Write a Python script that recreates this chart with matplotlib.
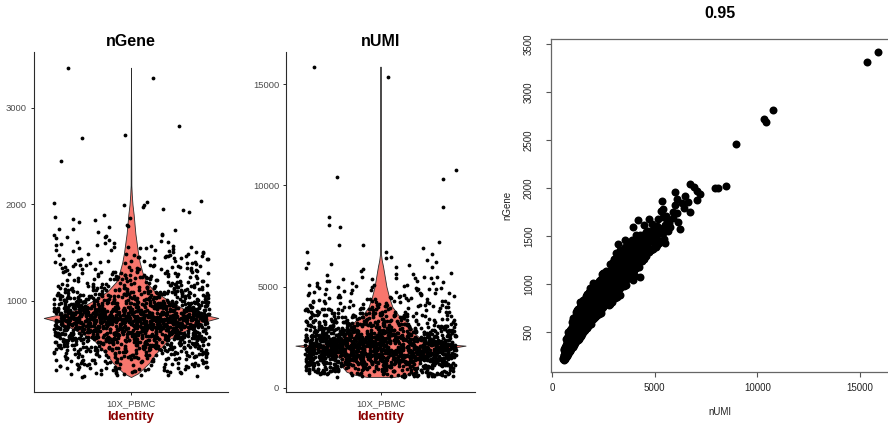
import numpy as np
import matplotlib
matplotlib.use("Agg")
from matplotlib import pyplot as plt

plt.rcParams['font.family'] = ['Liberation Sans', 'DejaVu Sans']

# cells, grouped by nGene band (same cells in all three panels)
gene_200 = [212, 228, 236, 244, 251, 258, 263, 269, 274, 279, 284, 288, 292, 296, 299]
umi_200 = [590, 612, 655, 580, 701, 634, 598, 742, 668, 611, 785, 702, 646, 820, 731]

gene_300 = [302, 305, 309, 313, 318, 321, 326, 331, 334, 338, 342, 345, 349, 353, 356, 360, 364, 367, 371, 374,
            378, 381, 385, 388, 391, 394, 397, 399]
umi_300 = [690, 812, 598, 745, 870, 655, 790, 934, 702, 846, 760, 611, 985, 820, 690, 895, 768, 1040, 842, 725,
           951, 880, 1102, 790, 936, 860, 1015, 748]

gene_400 = [401, 403, 406, 408, 411, 413, 416, 418, 421, 423, 426, 428, 431, 433, 436, 438, 441, 443, 446, 448,
            451, 453, 456, 458, 461, 463, 466, 468, 471, 473, 476, 478, 481, 483, 486, 488, 491, 493, 495, 497,
            498, 499, 500, 496]
umi_400 = [905, 1080, 842, 990, 1165, 930, 876, 1042, 1210, 968, 895, 1120, 1004, 720, 1076, 1255, 980, 921, 1140, 1033,
           1302, 958, 1088, 1190, 1010, 760, 1135, 1264, 1047, 990, 1178, 1352, 1102, 962, 1226, 1064, 1150, 1388, 1018, 1240,
           1110, 1286, 1174, 800]

gene_500 = [502, 503, 505, 506, 508, 509, 511, 512, 514, 515, 517, 518, 520, 521, 523, 524, 526, 527, 529, 530,
            532, 533, 535, 536, 538, 539, 541, 542, 544, 545, 547, 548, 550, 551, 553, 554, 556, 557, 559, 560,
            562, 563, 565, 566, 568, 569, 571, 572, 574, 575, 577, 578, 580, 581, 583, 584, 586, 587, 589, 590,
            592, 593, 595, 596, 597, 598, 599, 600]
umi_500 = [1120, 1310, 1045, 1230, 1402, 1168, 1090, 1275, 1350, 1186, 880, 1460, 1240, 1138, 1318, 1205, 1095, 1420, 1268, 1184,
           1352, 1506, 1230, 920, 1295, 1388, 1172, 1254, 1558, 1340, 1212, 960, 1302, 1428, 1260, 1610, 1186, 1344, 1278, 1470,
           1232, 1395, 1310, 1522, 1208, 1366, 1448, 1290, 1660, 1384, 1252, 1470, 1336, 1568, 1410, 1282, 1495, 1372, 1624, 1318,
           1452, 1540, 1390, 1710, 1060, 1506, 1436, 1362]

gene_600 = [601, 602, 603, 604, 605, 606, 607, 608, 609, 610, 611, 612, 613, 614, 615, 616, 617, 618, 619, 620,
            621, 622, 623, 624, 625, 626, 627, 628, 629, 630, 631, 632, 633, 634, 635, 636, 637, 638, 639, 640,
            641, 642, 643, 644, 645, 646, 647, 648, 649, 650, 651, 652, 653, 654, 655, 656, 657, 658, 659, 660,
            661, 662, 663, 664, 665, 666, 667, 668, 669, 670, 671, 672, 673, 674, 675, 676, 677, 678, 679, 680,
            682, 684, 686, 688, 690, 692, 694, 696, 698, 699, 687, 693]
umi_600 = [1410, 1528, 1352, 1466, 1620, 1398, 1296, 1540, 1462, 1705, 1380, 1498, 1572, 1324, 1446, 1688, 1512, 1402, 1590, 1268,
           1484, 1636, 1420, 1552, 1790, 1476, 1358, 1602, 1518, 1438, 1680, 1546, 1402, 1622, 1860, 1490, 1574, 1120, 1656, 1530,
           1702, 1468, 1590, 1812, 1542, 1420, 1664, 1596, 1488, 1738, 1612, 1100, 1690, 1566, 1904, 1624, 1498, 1752, 1640, 1532,
           1786, 1660, 1180, 1718, 1602, 1956, 1684, 1560, 1806, 1676, 1512, 1744, 1858, 1630, 1722, 1200, 1792, 1660, 2010, 1728,
           1590, 1836, 1702, 1930, 1664, 1802, 1542, 1888, 1746, 2064, 1818, 1622]

gene_700 = [700, 701, 702, 702, 703, 704, 705, 706, 706, 707, 708, 709, 710, 710, 711, 712, 713, 714, 714, 715,
            716, 717, 718, 718, 719, 720, 721, 722, 722, 723, 724, 725, 726, 726, 727, 728, 729, 730, 730, 731,
            732, 733, 734, 734, 735, 736, 737, 738, 738, 739, 740, 741, 742, 742, 743, 744, 745, 746, 746, 747,
            748, 749, 750, 750, 751, 752, 753, 754, 754, 755, 756, 757, 758, 758, 759, 760, 761, 762, 762, 763,
            764, 765, 766, 766, 767, 768, 769, 770, 770, 771, 772, 773, 774, 774, 775, 776, 777, 778, 778, 779,
            780, 781, 782, 782, 783, 784, 785, 786, 786, 787, 788, 789, 790, 790, 791, 792, 793, 794, 794, 795,
            796, 797, 798, 798, 799, 799]
umi_700 = [1690, 1812, 1624, 1930, 1758, 1580, 1866, 1702, 2044, 1790, 1648, 1902, 1776, 1300, 1984, 1724, 1850, 1668, 2106, 1812,
           1594, 1942, 1760, 1680, 1876, 2010, 1722, 1618, 1958, 1804, 1702, 2080, 1846, 1650, 1938, 1776, 2164, 1822, 1240, 1990,
           1748, 1880, 1690, 2052, 1834, 1964, 1726, 2220, 1812, 1320, 1906, 2034, 1786, 1874, 2120, 1714, 1962, 1838, 2262, 1752,
           1996, 1878, 1676, 2090, 1924, 1810, 2174, 1890, 1742, 2036, 1952, 1820, 2308, 1906, 1774, 2068, 1986, 1852, 2196, 1930,
           1380, 2110, 2006, 1868, 2354, 1944, 1800, 2142, 2030, 1906, 1760, 2226, 2060, 1938, 1842, 2400, 1986, 2100, 1878, 2252,
           1968, 1812, 2170, 2044, 1920, 2318, 2088, 1480, 2204, 1994, 2130, 1888, 2442, 2060, 1946, 2262, 2110, 1836, 2180, 2010,
           2336, 1924, 2098, 2214, 1970, 2480]

gene_800 = [800, 800, 801, 802, 802, 803, 804, 804, 805, 806, 806, 807, 808, 808, 809, 810, 810, 811, 812, 812,
            813, 814, 814, 815, 816, 816, 817, 818, 818, 819, 820, 820, 821, 822, 822, 823, 824, 824, 825, 826,
            826, 827, 828, 828, 829, 830, 830, 831, 832, 832, 833, 834, 834, 835, 836, 836, 837, 838, 838, 839,
            840, 840, 841, 842, 842, 843, 844, 844, 845, 846, 846, 847, 848, 848, 849, 850, 850, 851, 852, 852,
            853, 854, 854, 855, 856, 856, 857, 858, 858, 859, 860, 860, 861, 862, 862, 863, 864, 864, 865, 866,
            866, 867, 868, 868, 869, 870, 870, 871, 872, 872, 873, 874, 874, 875, 876, 876, 877, 878, 878, 879,
            880, 881, 882, 882, 883, 884, 885, 886, 886, 887, 888, 889, 890, 891, 892, 893, 894, 896, 897, 899]
umi_800 = [1984, 2160, 2072, 1500, 2290, 2018, 2146, 1930, 2380, 2090, 1962, 2218, 2044, 2402, 1890, 2170, 2088, 2296, 1972, 2134,
           2462, 2056, 1908, 2240, 2112, 2008, 2350, 2184, 1948, 2076, 2512, 2210, 2100, 1986, 2328, 2148, 2040, 2426, 2226, 1560,
           2168, 2294, 2070, 2540, 2196, 2012, 2372, 2118, 2250, 1520, 2446, 2164, 2062, 2320, 2206, 2598, 2090, 2268, 1998, 2404,
           2142, 2280, 2044, 2478, 2218, 2336, 2096, 2632, 2256, 2170, 1600, 2390, 2236, 2120, 2522, 2300, 2068, 2412, 2190, 2680,
           2262, 2136, 2354, 2460, 2084, 2298, 2578, 2214, 2390, 2148, 3150, 2310, 2236, 2442, 2098, 2366, 2560, 2192, 2290, 2484,
           2156, 2338, 2760, 2246, 2402, 1660, 2520, 2316, 2208, 2618, 2380, 2270, 2476, 2154, 2818, 2344, 2230, 2540, 2412, 2296,
           2660, 2188, 2470, 2362, 3300, 2254, 2428, 2580, 2316, 1700, 2506, 2392, 2712, 2268, 2452, 2920, 2340, 2560, 2414, 2636]

gene_900 = [900, 901, 902, 903, 904, 905, 906, 907, 908, 909, 910, 911, 912, 913, 914, 915, 916, 917, 918, 919,
            920, 921, 922, 923, 924, 925, 926, 927, 928, 929, 931, 932, 933, 935, 936, 937, 938, 940, 941, 942,
            944, 945, 946, 948, 949, 950, 952, 953, 954, 956, 957, 958, 960, 961, 962, 964, 965, 966, 968, 969,
            970, 972, 973, 974, 976, 977, 978, 980, 981, 982, 984, 985, 986, 988, 989, 990, 992, 993, 994, 996,
            997, 998, 999, 903, 917, 934, 951, 967, 983]
umi_900 = [2318, 2486, 2250, 2630, 2390, 2804, 2460, 1800, 2578, 2412, 2690, 2534, 2360, 1980, 2506, 2428, 2652, 2310, 2740, 2580,
           2456, 2020, 2620, 1860, 2708, 2548, 2816, 2470, 2662, 3010, 2594, 2446, 2760, 2682, 2912, 2100, 2380, 2848, 2640, 3082,
           2586, 2720, 1920, 2950, 2664, 2798, 3140, 2560, 2736, 2880, 2618, 2150, 2702, 2836, 1980, 3210, 2790, 2660, 2930, 2748,
           3066, 2612, 2862, 2720, 3290, 2800, 2954, 2680, 3118, 2842, 2740, 2988, 3360, 2808, 2690, 3054, 2910, 3200, 2772, 2986,
           3424, 2860, 3090, 2540, 2592, 2530, 2610, 3020, 2604]

gene_1000 = [1001, 1003, 1004, 1006, 1008, 1009, 1011, 1013, 1014, 1016, 1018, 1019, 1021, 1023, 1024, 1026, 1028, 1029, 1031, 1033,
             1034, 1036, 1038, 1039, 1041, 1042, 1044, 1046, 1048, 1049, 1051, 1053, 1054, 1056, 1058, 1059, 1061, 1063, 1064, 1066,
             1068, 1069, 1071, 1073, 1074, 1076, 1078, 1077, 1081, 1083, 1084, 1086, 1088, 1089, 1091, 1093, 1094, 1096, 1098, 1099,
             1097]
umi_1000 = [2180, 2910, 2820, 3080, 2736, 2260, 3220, 2860, 3040, 2768, 3310, 2940, 2330, 2812, 3006, 3390, 2880, 3160, 2950, 3060,
            2420, 3470, 3002, 3214, 2900, 3958, 3550, 2970, 3276, 3080, 2860, 3190, 3620, 3030, 3340, 2930, 3150, 3420, 3040, 2880,
            3710, 3230, 3100, 3480, 2990, 3300, 3160, 4284, 3060, 3380, 3220, 2940, 3560, 3270, 3110, 3860, 3330, 3180, 3500, 3040,
            3650]

gene_1100 = [1102, 1105, 1108, 1110, 1113, 1116, 1118, 1121, 1124, 1126, 1129, 1132, 1134, 1137, 1140, 1142, 1145, 1148, 1150, 1153,
             1156, 1158, 1161, 1164, 1166, 1169, 1172, 1174, 1177, 1180, 1182, 1185, 1188, 1190, 1193, 1196, 1198]
umi_1100 = [2420, 3260, 3540, 3150, 3390, 2500, 3720, 3310, 3180, 3480, 3880, 3260, 3600, 3380, 2620, 3760, 3460, 3980, 3320, 3640,
            3500, 3250, 3820, 3560, 4100, 3420, 3700, 3350, 3900, 3580, 4220, 3480, 3760, 3620, 4020, 3540, 3860]

gene_1200 = [1203, 1207, 1211, 1215, 1219, 1223, 1227, 1231, 1235, 1239, 1243, 1247, 1251, 1255, 1259, 1263, 1267, 1271, 1275, 1279,
             1283, 1287, 1291, 1294, 1297, 1299]
umi_1200 = [2820, 3640, 3900, 3520, 4180, 3700, 2960, 3980, 3620, 4360, 3780, 3560, 4100, 3860, 3640, 4460, 3920, 3760, 4220, 3980,
            3700, 4600, 4040, 3860, 4300, 3740]

gene_1300 = [1304, 1309, 1314, 1319, 1324, 1329, 1334, 1339, 1344, 1349, 1354, 1359, 1364, 1369, 1374, 1379, 1384, 1389, 1395]
umi_1300 = [3720, 4060, 4420, 3900, 4200, 4700, 4040, 3880, 4380, 4820, 4160, 4520, 4000, 4940, 4300, 4620, 4140, 5050, 4400]

gene_1400 = [1403, 1410, 1414, 1421, 1425, 1433, 1439, 1445, 1451, 1462, 1463, 1469, 1475, 1483, 1492]
umi_1400 = [3940, 5090, 3230, 5000, 5500, 4720, 4100, 5240, 4580, 3560, 4880, 5460, 4520, 4960, 4680]

gene_1500 = [1506, 1514, 1522, 1531, 1539, 1547, 1556, 1564, 1570, 1581, 1589, 1597]
umi_1500 = [4420, 5100, 4700, 5420, 4860, 5200, 5640, 4960, 6232, 5020, 5760, 3958]

gene_1600 = [1605, 1614, 1623, 1649, 1667, 1662, 1674, 1685, 1696]
umi_1600 = [5100, 5480, 4880, 6150, 4200, 5620, 5180, 5900, 5420]

gene_high = [1747, 1747, 1778, 1712, 1735, 1762, 1790, 1840, 1865, 1875, 1820, 1852, 1890,
             1938, 1955, 1972, 1920, 1996, 1998, 2039, 2021, 2012,
             2455, 2691, 2716, 2813, 3312, 3417]
umi_high = [5875, 6720, 5420, 5560, 6080, 5300, 6440, 6312, 5370, 7075, 5980, 6600, 6100,
            7205, 5990, 7044, 6480, 7936, 8067, 6720, 8455, 6900,
            8958, 10400, 10330, 10775, 15336, 15872]

# more cells from the dense part of the clouds
gene_more_low = [218, 232, 247, 255, 266, 277, 289, 297,
                 304, 311, 316, 324, 329, 336, 340, 347, 351, 358, 362, 369, 376, 383, 392,
                 402, 407, 410, 415, 419, 424, 427, 432, 437, 440, 444, 447, 452, 455, 459, 462, 465, 470, 474, 479,
                 482, 487, 490, 494, 499]
umi_more_low = [640, 560, 720, 602, 760, 650, 700, 872,
                610, 880, 700, 930, 640, 780, 1010, 690, 905, 760, 1060, 700, 980, 820, 1120,
                760, 1010, 1190, 820, 1260, 700, 1090, 1300, 860, 1160, 780, 1380, 920, 1220, 1060, 1420, 830, 1300, 940, 1470,
                1150, 880, 1400, 1020, 1520]

gene_more_500 = [501, 504, 507, 510, 513, 516, 519, 522, 525, 528, 531, 534, 537, 540, 543, 546, 549, 552, 555, 558,
                 561, 564, 567, 570, 573, 576, 579, 582, 585, 588, 591, 594, 596, 598, 503, 519, 537, 555, 573, 591]
umi_more_500 = [960, 1380, 1180, 1560, 900, 1290, 1470, 1040, 1600, 1230, 980, 1420, 1310, 1690, 1100, 1480, 1020, 1640, 1350, 1150,
                1760, 1240, 1000, 1560, 1400, 1820, 1120, 1520, 1300, 1880, 1080, 1620, 1460, 1240, 1220, 1050, 1540, 1380, 1170, 1700]

gene_more_600 = [600, 602, 604, 606, 608, 610, 612, 614, 616, 618, 620, 622, 624, 626, 628, 630, 632, 634, 636, 638,
                 640, 642, 644, 646, 648, 650, 652, 654, 656, 658, 660, 662, 664, 666, 668, 670, 672, 674, 676, 678,
                 680, 682, 684, 686, 688, 690, 692, 694, 696, 698, 605, 625, 645, 665, 685]
umi_more_600 = [1200, 1640, 1350, 1780, 960, 1520, 1900, 1300, 1460, 1720, 1000, 1580, 1840, 1380, 1620, 1250, 1960, 1480, 1700, 1320,
                1560, 2000, 1040, 1660, 1420, 1860, 1540, 1280, 1760, 2080, 1450, 1620, 1900, 1240, 1700, 1520, 2120, 1380, 1820, 1600,
                1960, 1300, 1740, 2300, 1500, 1860, 1660, 1400, 2380, 1780, 1760, 1210, 2040, 1560, 1340]

gene_more_700 = [700, 701, 703, 704, 706, 707, 709, 710, 712, 713, 715, 716, 718, 719, 721, 722, 724, 725, 727, 728,
                 730, 731, 733, 734, 736, 737, 739, 740, 742, 743, 745, 746, 748, 749, 751, 752, 754, 755, 757, 758,
                 760, 761, 763, 764, 766, 767, 769, 770, 772, 773, 775, 776, 778, 779, 781, 782, 784, 785, 787, 788,
                 790, 791, 793, 794, 796, 797, 799, 712, 728, 744, 756, 768, 784, 792, 735]
umi_more_700 = [1420, 1880, 2100, 1560, 1740, 2260, 1180, 1980, 1640, 2180, 1480, 1840, 2320, 1600, 1940, 1220, 2060, 1720, 2400, 1540,
                1860, 2140, 1460, 1780, 2280, 1640, 1980, 1250, 2200, 1820, 1540, 2360, 1900, 1700, 2080, 1440, 2240, 1800, 1620, 2460,
                1960, 1520, 2160, 1760, 2320, 1600, 2040, 1460, 2500, 1880, 1680, 2200, 1540, 2380, 1800, 1980, 1420, 2760, 2120, 1720,
                1900, 2300, 1580, 2040, 2700, 1760, 2180, 1580, 2220, 1260, 2280, 1500, 1680, 2820, 1900]

gene_more_800 = [800, 801, 802, 803, 804, 805, 806, 807, 808, 809, 810, 811, 812, 813, 814, 815, 816, 817, 818, 819,
                 820, 821, 822, 823, 824, 825, 826, 827, 828, 829, 830, 832, 834, 836, 838, 840, 842, 844, 846, 848,
                 850, 852, 854, 856, 858, 860, 862, 864, 866, 868, 870, 872, 874, 876, 878, 880, 882, 884, 886, 888,
                 890, 892, 894, 896, 898, 899, 811, 823, 835, 847, 859, 871, 883, 895, 815, 827, 839, 851, 863, 875]
umi_more_800 = [1640, 2300, 1820, 2480, 1420, 2120, 2640, 1720, 1940, 2380, 1360, 2220, 2560, 1860, 2060, 1680, 2420, 1760, 2700, 2000,
                1580, 2340, 1900, 2600, 1700, 2180, 2460, 1620, 2260, 1840, 2540, 1720, 2380, 1960, 2720, 1640, 2260, 2480, 1800, 2100,
                2640, 1740, 2320, 1960, 3050, 1860, 2440, 1700, 2560, 2080, 2260, 1780, 2700, 2000, 2480, 1840, 3150, 2160, 1760, 2620,
                2380, 1900, 2760, 2200, 1820, 2500, 1400, 2580, 1680, 2780, 1800, 2640, 1960, 2840, 2940, 1620, 2460, 1740, 2860, 2000]

gene_more_900 = [900, 902, 904, 906, 908, 910, 912, 914, 916, 918, 920, 922, 924, 926, 928, 930, 932, 934, 936, 938,
                 940, 942, 944, 946, 948, 950, 952, 954, 956, 958, 960, 962, 964, 966, 968, 970, 972, 974, 976, 978,
                 980, 982, 984, 986, 988, 990, 992, 994, 996, 998, 909, 929, 949, 969, 989]
umi_more_900 = [1720, 2620, 2180, 2840, 2000, 2460, 3020, 2100, 2700, 1800, 2560, 2240, 3100, 2060, 2780, 2380, 1980, 2900, 2160, 3180,
                2480, 2040, 2820, 2300, 3240, 2140, 2640, 2920, 1840, 2500, 3300, 2200, 2760, 2440, 3060, 2120, 2580, 2980, 2280, 3500,
                2340, 2860, 2180, 3120, 2560, 2260, 3600, 2700, 2400, 2940, 2080, 2880, 2240, 3080, 2380]

gene_more_1000 = [1002, 1005, 1007, 1010, 1012, 1015, 1017, 1020, 1022, 1025, 1027, 1030, 1032, 1035, 1037, 1040, 1043, 1045, 1047, 1050,
                  1052, 1055, 1057, 1060, 1062, 1065, 1067, 1070, 1072, 1075, 1080, 1082, 1085, 1087, 1090, 1092, 1095, 1099]
umi_more_1000 = [2080, 3140, 2520, 2940, 2000, 3360, 2640, 2380, 3060, 2560, 3260, 2300, 2800, 3480, 2460, 2700, 3560, 2340, 2920, 3100,
                 2400, 3640, 2720, 2560, 3300, 2480, 3000, 3950, 2620, 3200, 2700, 3440, 2560, 4050, 2880, 3300, 2640, 3600]

gene_more_up = [1101, 1104, 1107, 1111, 1114, 1117, 1120, 1123, 1127, 1130, 1133, 1136, 1139, 1143, 1146, 1149, 1152, 1157, 1162, 1168,
                1176, 1189, 1201, 1209, 1216, 1222, 1229, 1236, 1241, 1249, 1256, 1262, 1270, 1277, 1285, 1292, 1298,
                1302, 1312, 1322, 1332, 1342, 1352, 1362, 1372, 1382, 1392, 1406, 1418, 1430, 1442, 1454, 1466, 1478, 1490,
                1510, 1528, 1545, 1560, 1585, 1610, 1635, 1680]
umi_more_up = [2560, 3540, 2840, 3300, 3760, 2680, 3180, 3620, 2900, 3900, 3360, 2760, 3480, 3080, 4000, 2860, 3600, 3240, 2980, 3820,
               3400, 3100, 3200, 3960, 2900, 3580, 4260, 3100, 3760, 4400, 3380, 3020, 4100, 3560, 4500, 3300, 3900,
               3400, 4300, 3100, 4600, 3700, 3300, 4880, 3900, 3540, 4480, 4400, 3700, 5200, 4200, 3900, 5000, 4300, 4800,
               4100, 5300, 4600, 4900, 5400, 4500, 5700, 4700]

gene_extra_a = [222, 241, 261, 282, 294, 307, 319, 333, 344, 355, 366, 379, 386, 395, 404, 409, 417, 425, 430, 439,
                445, 450, 457, 464, 469, 477, 485, 492, 505, 511, 516, 523, 527, 534, 540, 546, 551, 557, 561, 566,
                570, 576, 581, 585, 590, 594, 599, 513, 529, 548, 562, 578, 587, 595, 455, 475, 489, 372, 348, 286]
umi_extra_a = [560, 690, 610, 770, 660, 845, 600, 760, 980, 700, 830, 1050, 740, 880, 1120, 800, 960, 1240, 860, 1040,
               1300, 900, 1180, 980, 1360, 1060, 1200, 940, 1480, 1130, 1320, 1000, 1560, 1260, 1140, 1420, 1680, 1180, 1360, 1500,
               1060, 1640, 1300, 1780, 1420, 1120, 1560, 1380, 1200, 1620, 1080, 1740, 1340, 1480, 1260, 1000, 1340, 760, 900, 680]

gene_extra_b = [601, 603, 604, 607, 609, 611, 613, 615, 617, 619, 621, 623, 626, 627, 629, 631, 633, 635, 637, 639,
                641, 643, 645, 647, 649, 651, 653, 655, 657, 659, 661, 663, 665, 667, 669, 671, 673, 675, 677, 679,
                681, 683, 685, 687, 689, 691, 693, 695, 697, 699, 701, 703, 705, 707, 709, 711, 713, 715, 717, 719,
                721, 723, 725, 727, 729, 731, 733, 735, 737, 739, 741, 743, 745, 747, 749, 751, 753, 755, 757, 759,
                761, 763, 765, 767, 769, 771, 773, 775, 777, 779, 781, 783, 785, 787, 789, 791, 793, 795, 797, 799,
                705, 718, 731, 744, 757, 770, 783, 796, 710, 723, 736, 749, 762, 775, 788, 620, 650, 680, 695, 665]
umi_extra_b = [1520, 1180, 1760, 1390, 1620, 1260, 1840, 1480, 1100, 1700, 1560, 1920, 1340, 1660, 1480, 2000, 1240, 1720, 1600, 1380,
               1820, 1520, 1140, 1960, 1620, 1740, 1400, 2040, 1560, 1880, 1460, 1700, 2120, 1580, 1300, 1820, 1640, 1960, 1520, 2200,
               1760, 1440, 1880, 2040, 1600, 1940, 1380, 2160, 1700, 1820, 1880, 1500, 2060, 1720, 2260, 1620, 1940, 1360, 2120, 1800,
               1700, 2300, 1560, 1960, 1820, 2160, 1440, 2040, 1880, 2380, 1640, 2000, 1860, 2240, 1520, 1920, 2100, 1760, 2440, 1680,
               2020, 1860, 2300, 1580, 2120, 1960, 1760, 2480, 1900, 2200, 1800, 2360, 2060, 1640, 2240, 1920, 2540, 1860, 2100, 1720,
               1580, 2080, 1760, 2180, 1980, 1700, 2160, 2020, 1840, 1920, 1660, 2120, 1860, 2040, 1960, 1640, 1780, 1880, 1620, 1560]

gene_extra_c = [801, 803, 805, 807, 809, 811, 813, 815, 817, 819, 821, 823, 825, 827, 829, 831, 833, 835, 837, 839,
                841, 843, 845, 847, 849, 851, 853, 855, 857, 859, 861, 863, 865, 867, 869, 871, 873, 875, 877, 879,
                881, 883, 885, 887, 889, 891, 893, 895, 897, 899, 901, 903, 905, 907, 909, 911, 913, 915, 917, 919,
                921, 923, 925, 927, 929, 931, 933, 935, 937, 939, 941, 943, 945, 947, 949, 951, 953, 955, 957, 959,
                961, 963, 965, 967, 969, 971, 973, 975, 977, 979, 981, 983, 985, 987, 989, 991, 993, 995, 997, 999,
                812, 836, 862, 888, 914, 938, 962, 986, 824, 848, 874, 898, 926, 952, 976, 816, 842, 868, 894, 918]
umi_extra_c = [2200, 1780, 2420, 2000, 1640, 2300, 2080, 2540, 1860, 2140, 1960, 2380, 2120, 1700, 2600, 2240, 1880, 2440, 2060, 2300,
               1820, 2520, 2180, 2360, 1940, 2660, 2220, 1760, 2400, 2080, 2500, 2160, 1900, 2720, 2340, 2040, 2560, 2260, 1840, 2440,
               2140, 2620, 2320, 1980, 2780, 2400, 2180, 2540, 2060, 2360, 2240, 2700, 2420, 2060, 2560, 2860, 2300, 2140, 2640, 2480,
               2580, 2200, 2760, 2400, 2920, 2320, 2640, 2100, 2500, 2820, 2360, 2680, 2980, 2240, 2560, 2440, 2840, 2160, 2720, 2600,
               2460, 3040, 2640, 2300, 2800, 2540, 2900, 2400, 2700, 3120, 2600, 2340, 2880, 2760, 2480, 3180, 2660, 2940, 2520, 2820,
               2040, 2180, 2340, 2460, 2600, 2720, 2860, 3000, 2260, 2380, 2060, 2520, 2380, 2900, 2620, 1920, 2140, 2400, 2240, 2540]

gene_extra_d = [1004, 1011, 1018, 1025, 1033, 1040, 1047, 1055, 1062, 1070, 1077, 1085, 1092, 1100, 1108, 1115, 1123, 1131, 1138, 1146,
                1154, 1161, 1170, 1178, 1186, 1195, 1205, 1214, 1224, 1233, 1244, 1253, 1262, 1273, 1284, 1296, 1308, 1318, 1329, 1340,
                1352, 1365, 1378, 1391, 1404, 1417, 1431, 1446, 1460, 1477, 1494, 1512, 1531, 1550, 1572, 1020, 1060, 1110, 1150, 1240]
umi_extra_d = [2600, 3120, 2880, 2380, 3260, 2960, 2540, 3400, 3080, 2700, 3500, 2860, 3240, 3600, 3000, 3320, 2780, 3700, 3160, 3440,
               2920, 3800, 3300, 3580, 3100, 3920, 3380, 3060, 3760, 4020, 3480, 3240, 3900, 3600, 4200, 3400, 3860, 4100, 3640, 4360,
               3900, 4500, 3720, 4240, 4000, 4640, 4300, 4120, 4760, 4420, 4860, 4300, 5020, 4680, 5260, 2820, 3100, 3280, 3000, 3600]

# violin outlines (relative width)
gene_levels = [212, 250, 300, 360, 450, 520, 600, 700, 780, 824, 870, 920, 1000, 1100, 1200, 1300,
               1400, 1500, 1600, 1700, 1800, 1900, 2000, 2100, 2200, 3417]
gene_width = [0, 0.08, 0.14, 0.21, 0.28, 0.35, 0.43, 0.64, 0.82, 1.0, 0.78, 0.6, 0.44, 0.27, 0.17, 0.13,
              0.10, 0.08, 0.065, 0.05, 0.04, 0.03, 0.017, 0.009, 0.004, 0.0]
umi_levels = [545, 650, 800, 1000, 1200, 1400, 1600, 1800, 1950, 2090, 2200, 2400, 2700, 3000, 3300,
              3600, 4000, 4500, 5000, 5500, 6000, 6300, 6600, 7000, 15872]
umi_width = [0.16, 0.3, 0.4, 0.44, 0.45, 0.47, 0.52, 0.62, 0.8, 1.0, 0.62, 0.48, 0.4, 0.36, 0.3,
             0.21, 0.14, 0.1, 0.07, 0.05, 0.03, 0.015, 0.006, 0.003, 0.0]

group_name = "10X_PBMC"
corr_title = "0.95"

bands = [(gene_200, umi_200), (gene_300, umi_300), (gene_400, umi_400), (gene_500, umi_500),
         (gene_600, umi_600), (gene_700, umi_700), (gene_800, umi_800), (gene_900, umi_900),
         (gene_1000, umi_1000), (gene_1100, umi_1100), (gene_1200, umi_1200), (gene_1300, umi_1300),
         (gene_1400, umi_1400), (gene_1500, umi_1500), (gene_1600, umi_1600), (gene_high, umi_high),
         (gene_more_low, umi_more_low), (gene_more_500, umi_more_500), (gene_more_600, umi_more_600),
         (gene_more_700, umi_more_700), (gene_more_800, umi_more_800), (gene_more_900, umi_more_900),
         (gene_more_1000, umi_more_1000), (gene_more_up, umi_more_up),
         (gene_extra_a, umi_extra_a), (gene_extra_b, umi_extra_b), (gene_extra_c, umi_extra_c),
         (gene_extra_d, umi_extra_d)]
for g, u in bands:
    assert len(g) == len(u), (g[0], len(g), len(u))
n_gene = np.concatenate([np.array(g, float) for g, _ in bands])
n_umi = np.concatenate([np.array(u, float) for _, u in bands])

W, H = 888, 423
fig = plt.figure(figsize=(W / 100, H / 100), dpi=100)


def px_axes(left, top, right, bottom):
    return fig.add_axes([left / W, 1 - bottom / H, (right - left) / W, (bottom - top) / H])


VIOLIN = '#F8766D'
AXIS = '#2b2b2b'
TICKTXT = '#4d4d4d'
idx = np.arange(len(n_gene))


def jitter(seed):
    # deterministic scatter of the x position inside the group (position only)
    h = np.sin(idx * 12.9898 + seed * 78.233) * 43758.5453
    return (h % 1 - 0.5) * 2 * 0.48


def violin_panel(ax, values, levels, width, jit, ylim, yticks, title, cx):
    w = np.array(width) * 0.54
    ax.fill_betweenx(levels, 1 - w, 1 + w, facecolor=VIOLIN, edgecolor=AXIS, linewidth=0.6, zorder=1)
    ax.scatter(1 + jit, values, s=7.5, c='black', linewidths=0, zorder=2)
    ax.set_xlim(0.4, 1.6)
    ax.set_ylim(*ylim)
    ax.set_yticks(yticks)
    ax.set_xticks([1])
    ax.set_xticklabels([group_name])
    for s in ['top', 'right']:
        ax.spines[s].set_visible(False)
    for s in ['left', 'bottom']:
        ax.spines[s].set_color(AXIS)
        ax.spines[s].set_linewidth(0.8)
    ax.tick_params(length=2.5, width=0.7, color=AXIS, labelsize=6.8, labelcolor=TICKTXT, pad=2.5)
    ax.set_xlabel('Identity', fontsize=9.5, fontweight='bold', color='#8B0000', labelpad=2)
    fig.text(cx / W, 1 - 42 / H, title, fontsize=11.5, fontweight='bold', ha='center', va='center')


ax1 = px_axes(34, 52, 228, 392)
violin_panel(ax1, n_gene, gene_levels, gene_width, jitter(1.0), (57, 3580), [1000, 2000, 3000], 'nGene', 131)

ax2 = px_axes(286, 52, 475, 392)
violin_panel(ax2, n_umi, umi_levels, umi_width, jitter(2.7), (-200, 16590), [0, 5000, 10000, 15000], 'nUMI', 380.5)

# scatter panel (right edge runs past the image)
ax3 = px_axes(550.7, 39.4, 890.6, 372.1)
ax3.scatter(n_umi, n_gene, s=33, c='black', linewidths=0)
ax3.set_xlim(-63, 16485)
ax3.set_ylim(82, 3548)
ax3.set_xticks([0, 5000, 10000, 15000])
ax3.set_yticks([500, 1000, 1500, 2000, 2500, 3000, 3500])
for s in ax3.spines.values():
    s.set_color('#666666')
    s.set_linewidth(0.9)
ax3.spines['right'].set_visible(False)
ax3.tick_params(length=3.6, width=0.8, color='#555555', labelsize=7, labelcolor='#222222')
ax3.tick_params(axis='x', pad=4.3)
ax3.tick_params(axis='y', pad=8.5)
for lab in ax3.get_yticklabels():
    lab.set_rotation(90)
    lab.set_va('center')
fig.text(720 / W, 1 - 13 / H, corr_title, fontsize=11.5, fontweight='bold', ha='center', va='center')
fig.text(720 / W, 1 - 412 / H, 'nUMI', fontsize=7, ha='center', va='center', color='#222222')
fig.text(507 / W, 1 - 205.5 / H, 'nGene', fontsize=7, ha='center', va='center', rotation=90, color='#222222')

fig.savefig('out.png', dpi=100)
